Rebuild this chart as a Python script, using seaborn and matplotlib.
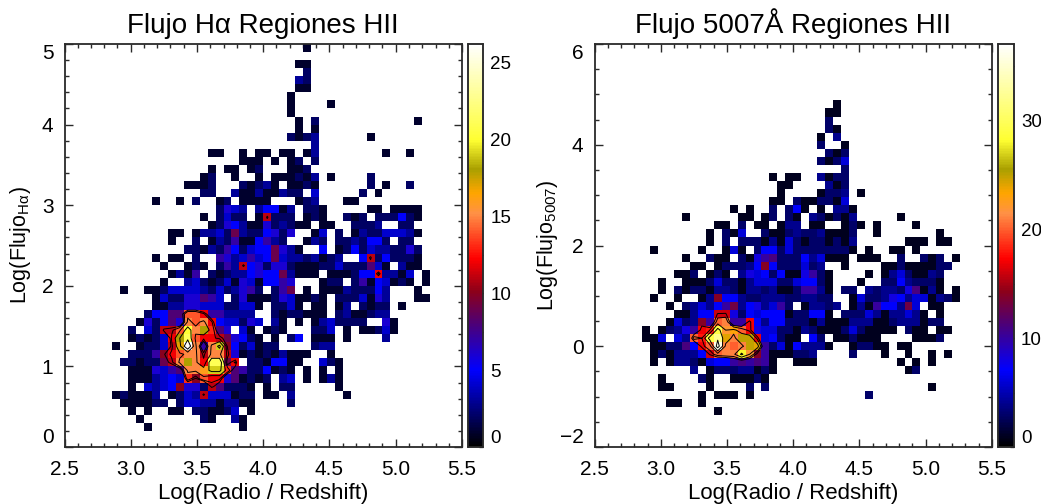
import numpy as np
import pandas as pd
import matplotlib
matplotlib.use("Agg")
import matplotlib.pyplot as plt
from matplotlib.colors import LinearSegmentedColormap
from matplotlib.ticker import MultipleLocator
import seaborn as sns

# Counts per histogram row (top row of the plot first); {x bin: count}
ha_rows = [
 {30:1},{},{29:1,30:1},{30:2},{29:3,30:2},{29:1,30:1},{28:1},{28:1,33:1},{28:1},
 {29:1,31:2,44:1},{29:1,31:1},{28:2,29:1,30:2,31:3,38:1},{31:3},
 {18:1,19:1,22:1,24:1,25:1,27:1,28:1,30:1,31:3,40:1,43:1},
 {22:1,23:1,24:1,26:1,28:1,29:2,31:2},
 {18:1,20:1,21:1,23:1,24:2,28:1,29:1,30:2},
 {17:1,18:2,21:1,24:1,26:1,27:1,28:1,29:2,30:1,31:3,33:1,38:2},
 {15:1,16:1,17:1,18:2,22:2,23:1,24:2,25:3,26:1,28:1,29:1,30:2,31:1,38:2,40:1,43:2},
 {17:2,18:2,21:3,22:1,23:1,24:3,25:1,26:1,27:3,28:2,29:2,31:4,37:2,39:1},
 {11:1,14:1,16:2,19:1,20:2,22:1,23:1,24:1,25:1,29:1,30:2,31:3,35:1,36:1},
 {19:2,20:6,21:4,22:3,24:3,25:5,26:5,27:1,28:3,30:2,31:2,32:1,38:1,39:1,41:1,42:1,43:1,44:1},
 {17:1,19:2,20:4,21:2,22:2,24:1,25:11,26:2,27:2,28:2,30:1,31:2,32:1,35:2,36:1,37:2,39:2,40:2,41:2,42:5,43:2,44:1},
 {18:1,19:2,20:6,21:5,22:3,23:1,24:1,25:6,26:2,27:3,28:2,29:1,30:1,32:1,33:1,36:2,37:2,38:2,39:3,42:2,43:2},
 {13:1,14:1,16:1,17:3,18:3,19:4,20:2,21:9,22:3,23:2,24:2,25:5,26:6,27:2,28:6,31:1,32:4,34:2,36:1,37:3,38:2,39:2,40:4,41:4,42:4,43:3,44:1},
 {13:1,16:2,18:1,19:3,20:2,21:7,22:1,23:1,24:5,25:7,26:3,27:2,30:1,31:3,32:2,34:2,35:2,36:3,37:2,38:5,39:5,40:2,42:2,43:2},
 {15:2,16:2,17:1,18:3,19:2,20:7,21:5,22:2,23:4,24:5,25:5,26:9,27:6,28:3,29:1,32:5,34:1,35:2,36:5,37:2,38:4,39:3,40:3,41:2,42:2,43:6,44:2},
 {11:1,13:1,14:1,16:2,19:7,20:6,21:3,22:4,23:7,24:4,25:5,26:9,27:4,28:3,29:3,30:2,31:3,32:1,33:2,34:3,37:5,38:11,39:2,40:5,41:2,42:2,43:2,44:1},
 {12:1,15:1,16:2,17:1,19:2,20:7,21:3,22:11,23:5,24:6,25:2,26:6,27:6,28:2,29:1,30:1,31:1,32:2,33:2,34:4,35:2,36:2,37:2,38:8,39:4,40:1,42:3,43:1,44:1},
 {13:1,14:3,15:1,16:7,18:2,19:1,20:2,21:3,22:3,23:5,24:6,25:5,26:5,27:9,28:3,29:1,30:1,31:1,33:1,34:1,35:1,36:2,37:5,38:5,39:12,40:3,41:3,42:1,43:4,45:1},
 {12:1,15:3,16:4,17:2,18:1,19:2,20:4,21:1,22:6,23:4,24:1,25:5,26:5,27:7,28:6,32:1,33:2,34:2,36:2,37:7,38:1,39:5,40:4,41:1,42:2,43:1,45:1},
 {7:1,10:1,11:1,12:2,13:4,14:4,15:4,16:4,17:3,18:2,19:4,20:2,21:3,22:6,23:7,24:2,26:2,27:7,28:9,30:1,32:1,33:1,34:1,35:3,36:2,37:2,38:2,39:5,40:3,44:1},
 {11:1,12:4,13:2,14:2,15:6,16:6,17:8,18:7,19:4,21:2,22:6,23:1,24:1,25:1,26:2,27:6,28:4,29:1,30:1,31:2,32:1,34:2,35:2,36:2,37:4,38:1,39:6,40:3,44:1,45:1},
 {11:1,12:1,13:3,14:3,15:6,16:6,17:4,18:4,19:4,20:2,21:2,22:4,23:4,24:1,26:2,27:2,28:4,29:1,31:1,32:1,34:1,35:3,37:2,38:1,39:2,40:2,42:1},
 {10:2,11:5,12:5,13:8,14:8,15:14,16:14,17:12,18:7,19:7,20:3,21:3,22:3,23:3,26:2,27:1,28:2,29:2,30:1,31:1,32:1,34:2,35:3,36:1,37:1,38:2,39:3,40:3},
 {9:1,10:6,11:2,12:5,13:8,14:6,15:15,16:14,17:15,18:12,19:5,20:4,21:4,22:2,23:6,24:4,26:3,27:1,29:1,31:1,32:3,33:4,34:2,35:2,36:2,37:2,40:6,41:1},
 {8:2,10:4,11:2,12:11,13:11,14:14,15:20,16:15,17:18,18:13,19:8,20:6,22:4,23:1,25:1,26:2,27:1,31:2,32:2,33:4,35:1,37:1,38:1,39:2,40:4,41:1},
 {8:1,9:2,10:1,11:2,12:4,13:12,14:18,15:21,16:14,17:12,18:12,19:11,20:9,21:6,22:5,23:2,24:1,26:1,28:2,29:5,31:1,32:1,33:1,35:1,40:3},
 {6:1,9:1,10:2,11:2,12:4,13:11,14:17,15:26,16:15,17:7,18:15,19:19,20:10,21:5,22:2,23:4,24:1,25:2,26:2,31:2,32:3,33:3},
 {8:2,9:2,10:2,11:7,12:10,13:12,14:14,15:15,16:15,17:11,18:15,19:15,20:11,21:6,22:1,23:2,24:1,25:2,26:1,27:3,28:1,29:1,30:1,33:1},
 {7:2,8:2,9:1,10:2,11:2,12:9,13:11,14:15,15:18,16:15,17:12,18:21,19:21,20:9,21:12,23:2,24:2,25:1,26:5,27:5,28:1,29:1,32:4,33:2,34:1},
 {8:1,9:1,10:1,11:6,12:4,13:7,14:8,15:15,16:15,17:16,18:19,19:19,20:13,21:8,22:7,23:2,24:2,25:5,26:1,27:2,28:1,30:1,32:1,34:1},
 {8:1,9:1,10:1,11:3,12:4,13:5,14:4,15:13,16:10,17:14,18:12,19:12,20:6,21:8,22:1,23:2,24:1,25:2,27:3,28:4,30:1,32:1,33:3,34:1},
 {8:1,10:4,11:3,12:4,13:5,14:10,15:6,16:6,17:2,18:11,19:8,20:2,21:2,22:2,23:1,25:1,27:2,28:2,34:1},
 {6:1,7:2,8:1,9:1,10:1,11:3,13:1,14:2,15:4,16:3,17:11,18:4,19:4,20:4,21:1,22:2,23:2,25:1,26:1,28:3,35:1},
 {7:1,8:1,9:1,10:1,11:2,12:2,14:2,15:4,16:4,17:3,18:3,19:1,20:3,21:3,22:1,23:1,28:2},
 {8:1,10:1,13:1,14:1,16:2,17:2,18:1,19:1,20:2,21:4,23:1},
 {9:1,17:2,18:1,21:3,22:1},
 {10:1,22:1},
]

o3_rows = [
 {},{},{},{},{},{},{},
 {30:1},{29:1,30:1},{29:3},{29:3,30:1},{28:1,30:4},{28:3,31:1},{29:3,30:1,31:3},
 {28:3,29:1,30:3,31:6},{31:3},{22:1,24:1,25:1,28:4,29:1,30:3,31:3},
 {23:1,24:1,29:4,30:1,31:3},{23:1,28:1,29:3,30:3,31:4,33:1},
 {22:1,23:1,25:3,26:1,27:1,28:3,29:3,30:1,31:6},
 {17:1,19:1,22:3,24:3,25:7,26:1,28:1,30:4,31:4,32:1},
 {11:1,18:1,19:1,21:1,22:3,24:3,25:1,27:4,28:3,29:1,30:3,31:1,32:4,38:1},
 {15:1,16:1,18:3,20:1,21:1,23:1,24:4,25:4,27:1,28:1,31:1,32:3,33:1,35:1,40:1},
 {14:1,16:3,17:1,18:6,21:3,22:1,23:1,24:3,25:4,26:3,27:3,28:4,29:1,30:1,31:1,32:3,35:1,43:1},
 {14:1,16:3,18:3,19:3,20:3,21:1,22:4,23:1,24:6,25:3,26:1,27:3,28:3,29:1,30:3,31:1,32:4,39:1,40:1,41:1,43:1,44:1},
 {7:1,13:1,16:1,17:6,18:1,20:3,21:7,22:7,23:3,24:6,25:3,26:3,27:3,28:3,29:3,30:3,31:3,32:1,34:1,37:1,38:1,40:1},
 {11:1,14:3,15:1,16:1,18:3,19:1,20:8,21:10,22:11,23:3,24:3,25:3,26:7,27:4,28:6,29:1,30:1,31:1,33:1,34:1,35:1,38:3,41:3,42:1,43:3,45:1},
 {12:1,13:1,15:1,16:3,17:3,18:3,19:4,20:7,21:14,22:7,23:3,24:3,25:3,26:6,27:3,28:4,31:1,36:1,37:1,38:3,39:1,40:1,41:1,42:1,43:3,44:3},
 {10:1,11:1,12:3,14:1,15:3,16:1,18:4,19:8,20:6,21:7,22:3,23:7,24:1,25:1,26:8,27:10,28:3,29:1,34:1,36:1,37:4,38:6,39:3,40:1,41:1,42:4,43:3},
 {8:1,11:1,12:1,13:1,14:3,15:6,16:3,17:3,18:1,19:4,20:6,21:6,22:6,23:3,24:3,25:6,26:7,27:7,28:3,29:1,33:1,36:3,37:3,38:7,39:4,40:3,41:3,42:3,43:1},
 {8:1,10:3,11:1,12:3,13:3,14:1,15:4,16:4,17:3,18:1,19:4,20:4,21:3,22:4,23:1,24:1,25:3,26:10,27:10,28:4,29:1,31:3,32:3,34:4,35:3,36:4,37:4,38:3,39:8,40:11,41:1,42:4,43:1,45:1},
 {7:1,10:1,13:1,14:4,15:14,16:7,17:7,18:4,19:3,20:3,21:4,22:4,23:4,24:3,25:3,26:4,27:4,28:3,29:3,32:1,33:6,34:3,35:3,36:4,37:8,38:7,39:4,40:6,41:6,42:1,43:4,44:3,45:1},
 {9:1,11:3,12:4,13:6,14:4,15:7,16:10,17:13,18:4,19:7,20:8,21:4,22:6,23:10,24:3,26:1,27:4,28:4,29:3,30:4,32:1,33:4,34:1,35:10,36:7,37:7,38:4,39:13,40:6,42:1,43:1},
 {10:1,11:1,12:4,13:7,14:7,15:16,16:16,17:8,18:3,19:7,20:6,21:7,22:7,23:7,24:1,25:3,26:3,27:7,28:7,29:1,31:3,32:3,33:3,34:6,35:4,36:1,37:4,38:4,39:6,40:4,41:1,43:1},
 {9:1,10:6,11:3,12:4,13:14,14:10,15:20,16:21,17:10,18:10,19:17,20:7,21:4,22:7,23:7,24:3,25:3,26:3,27:1,28:4,29:1,30:1,31:1,32:4,33:4,34:4,35:1,36:1,37:3,38:4,39:4,40:4,41:1,42:3,43:3},
 {6:1,8:1,9:3,10:4,11:8,12:10,13:17,14:18,15:29,16:22,17:23,18:20,19:17,20:8,21:6,22:6,23:3,24:3,25:1,26:4,27:3,28:1,29:1,30:1,31:3,32:6,33:3,34:1,35:1,36:1,37:1,39:3,40:1,41:1,43:1,44:1},
 {6:1,7:1,8:6,10:6,11:4,12:20,13:18,14:29,15:32,16:24,17:21,18:25,19:25,20:17,21:6,22:7,23:3,24:1,25:1,27:7,28:3,30:1,31:1,32:3,33:1,34:1,35:1,40:1,41:1,42:1,43:3},
 {7:1,8:1,9:3,10:3,11:11,12:7,13:17,14:20,15:36,16:21,17:20,18:21,19:25,20:24,21:10,22:3,23:6,24:1,25:7,26:4,27:4,28:4,29:1,32:1,33:3,34:3,35:1,36:1,38:1,39:1},
 {7:1,8:3,9:1,10:4,11:4,12:4,13:7,14:16,15:20,16:21,17:21,18:28,19:22,20:14,21:10,22:1,23:1,24:1,25:3,26:3,27:4,32:3,36:1,39:1,42:1,44:1},
 {7:1,9:1,10:4,11:4,12:3,13:1,14:6,15:7,16:7,17:10,18:11,19:10,20:11,21:10,22:1,25:1,26:1,27:1,38:1,40:1,42:1},
 {12:4,14:1,15:3,16:3,17:3,18:4,19:4,20:1,21:3,22:1,39:1,40:3},
 {8:1,13:3,14:1,17:1,18:1,19:1,20:3,21:1},
 {8:1,9:1,14:1,19:3,21:3,42:1},
 {13:1,15:1,16:1,17:1,19:1,34:3},
 {9:1,10:1,13:1},
 {15:1},
]

titles = ["Flujo H\u03b1 Regiones HII", "Flujo 5007\u00c5 Regiones HII"]
ylabels = [r"Log(Flujo$_{\mathrm{H\alpha}}$)", r"Log(Flujo$_{\mathrm{5007}}$)"]
xlabel = "Log(Radio / Redshift)"
x_range = (2.5, 5.5)
y_ranges = [(0.0, 5.0), (-2.0, 6.0)]
y_major = [1, 2]
y_minor = [0.2, 0.5]
color_tops = [26.2, 37.0]
color_major = [5, 10]
contour_levels = [[10.2, 11.5, 14.5, 18.0, 22.0], [15.5, 18.0, 22.0, 27.0, 33.0]]
n_bins = 50
ylabel_pads = [6, 0]

cmap = LinearSegmentedColormap.from_list("idl", [
    (0.00, (0, 0, 0)), (0.035, (0, 0, 45/255)), (0.09, (0, 0, 120/255)), (0.19, (0, 0, 1)),
    (0.295, (70/255, 0, 130/255)), (0.386, (140/255, 0, 25/255)), (0.468, (1, 0, 0)),
    (0.58, (1, 145/255, 70/255)), (0.63, (1, 165/255, 0)), (0.69, (170/255, 160/255, 0)),
    (0.763, (1, 1, 50/255)), (1.00, (1, 1, 1))])

sns.set_theme(style="white")
plt.rcParams["font.family"] = ["Liberation Sans", "DejaVu Sans"]
plt.rcParams["mathtext.fontset"] = "custom"
plt.rcParams["mathtext.rm"] = "Liberation Sans"
plt.rcParams["mathtext.it"] = "Liberation Sans:italic"
plt.rcParams["mathtext.bf"] = "Liberation Sans:bold"

W, H = 1041, 504
fig = plt.figure(figsize=(W/100, H/100), dpi=100)
frame = "#2a2a2a"


def to_frame(rows, yr):
    dx = (x_range[1]-x_range[0])/n_bins
    dy = (yr[1]-yr[0])/n_bins
    recs = []
    for i, row in enumerate(rows):
        for c, n in row.items():
            recs.append((x_range[0]+(c+.5)*dx, yr[1]-(i+.5)*dy, n))
    return pd.DataFrame(recs, columns=["x", "y", "n"])


def grid(df, yr):
    counts, xe, ye = np.histogram2d(df.x, df.y, bins=n_bins, range=[x_range, yr], weights=df.n)
    return (xe[:-1]+xe[1:])/2, (ye[:-1]+ye[1:])/2, counts.T


lefts = [64.5, 594.5]
cb_lefts = [467.5, 998.0]
top_px, bot_px = 44.0, 447.0
for k, rows in enumerate([ha_rows, o3_rows]):
    ax = fig.add_axes([lefts[k]/W, 1-bot_px/H, 397.5/W, (bot_px-top_px)/H])
    cax = fig.add_axes([cb_lefts[k]/W, 1-bot_px/H, 16/W, (bot_px-top_px)/H])
    yr = y_ranges[k]
    df = to_frame(rows, yr)
    sns.histplot(data=df, x="x", y="y", weights="n", bins=n_bins, binrange=(x_range, yr),
                 cmap=cmap, cbar=True, cbar_ax=cax, ax=ax)
    ax.collections[0].set_clim(0, color_tops[k])
    xc, yc, counts = grid(df, yr)
    ax.contour(xc, yc, counts, levels=contour_levels[k], colors="black", linewidths=0.7)
    ax.set_xlim(*x_range)
    ax.set_ylim(*yr)
    ax.set_title(titles[k], fontsize=20, pad=8, color="black")
    ax.set_xlabel(xlabel, fontsize=16, labelpad=2.5, color="black")
    ax.set_ylabel(ylabels[k], fontsize=15.5, labelpad=ylabel_pads[k], color="black")
    ax.xaxis.set_major_locator(MultipleLocator(0.5))
    ax.xaxis.set_minor_locator(MultipleLocator(0.1))
    ax.yaxis.set_major_locator(MultipleLocator(y_major[k]))
    ax.yaxis.set_minor_locator(MultipleLocator(y_minor[k]))
    ax.tick_params(which="both", direction="in", top=True, right=True, bottom=True, left=True,
                   color=frame, width=1.0, labelsize=15, labelcolor="black")
    ax.tick_params(which="major", length=6)
    ax.tick_params(axis="x", which="major", pad=9.5)
    ax.tick_params(axis="y", which="major", pad=8)
    ax.tick_params(which="minor", length=3)
    ax.figure.canvas.draw()
    for t, loc in zip(ax.get_yticklabels(), ax.get_yticks()):
        if abs(loc-yr[0]) < 1e-6:
            t.set_verticalalignment("bottom")
        elif abs(loc-yr[1]) < 1e-6:
            t.set_verticalalignment("top")
    for s in ax.spines.values():
        s.set_visible(True)
        s.set_color(frame)
        s.set_linewidth(1.3)
    cax.yaxis.set_major_locator(MultipleLocator(color_major[k]))
    cax.yaxis.set_minor_locator(MultipleLocator(color_major[k]/2))
    cax.tick_params(which="both", direction="in", left=False, right=True, color="black",
                    width=0.9, labelsize=13.5, labelcolor="black", pad=5)
    cax.tick_params(which="major", length=3)
    cax.tick_params(which="minor", length=2)
    fig.canvas.draw()
    for t, loc in zip(cax.get_yticklabels(), cax.get_yticks()):
        if abs(loc) < 1e-6:
            t.set_verticalalignment("bottom")
    for s in cax.spines.values():
        s.set_visible(True)
        s.set_color(frame)
        s.set_linewidth(1.1)

fig.savefig("out.png", dpi=100)
